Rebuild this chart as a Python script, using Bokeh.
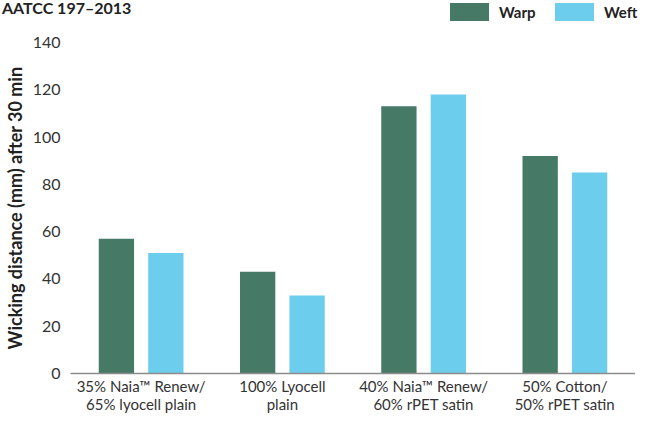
from bokeh.plotting import figure
from bokeh.layouts import column
from bokeh.models import (FactorRange, Range1d, FixedTicker, ColumnDataSource, Div)
from bokeh.transform import dodge
from bokeh.embed import file_html
from bokeh.resources import INLINE

categories = ["35% Naia\u2122 Renew/\n65% lyocell plain",
              "100% Lyocell\nplain",
              "40% Naia\u2122 Renew/\n60% rPET satin",
              "50% Cotton/\n50% rPET satin"]
warp = [57, 43, 113, 92]
weft = [51, 33, 118, 85]
series = ["Warp", "Weft"]
subtitle = "AATCC 197\u20132013"
y_ticks = [0, 20, 40, 60, 80, 100, 120, 140]

WARP_COLOR = "#467966"
WEFT_COLOR = "#6ccdec"
colors = [WARP_COLOR, WEFT_COLOR]
FONT = "Lato"

W = 635
HEAD_H = 30
MAIN_H = 423 - HEAD_H
LEFT = 68

# ---------------- header: subtitle + legend as real HTML text ----------------
LEG_X0, LEG_PITCH, SW_W, SW_H = 450, 105, 39, 18
parts = [f'<div style="position:absolute;left:2px;top:0px;font-size:16px;'
         f'line-height:16px;white-space:nowrap">{subtitle}</div>']
for i, (name, col) in enumerate(zip(series, colors)):
    x0 = LEG_X0 + i * LEG_PITCH
    parts.append(f'<div style="position:absolute;left:{x0}px;top:3px;width:{SW_W}px;'
                 f'height:{SW_H}px;background:{col}"></div>')
    parts.append(f'<div style="position:absolute;left:{x0 + SW_W + 10}px;top:3px;'
                 f'font-size:15px;line-height:{SW_H}px;white-space:nowrap">{name}</div>')
head = Div(text=(f'<div style="position:relative;width:{W}px;height:{HEAD_H}px;'
                 f'font-family:{FONT},sans-serif;font-weight:bold;color:#222222">'
                 + "".join(parts) + "</div>"),
           width=W, height=HEAD_H, margin=0)

# ---------------- main chart ----------------
source = ColumnDataSource(dict(cat=categories, warp=warp, weft=weft))

p = figure(width=W, height=MAIN_H, output_backend="svg", toolbar_location=None,
           x_range=FactorRange(*categories, range_padding=0),
           y_range=Range1d(0, 140),
           min_border_left=LEFT, min_border_right=0, min_border_top=12,
           min_border_bottom=50)
p.outline_line_color = None
p.grid.grid_line_color = None

p.vbar(x=dodge("cat", -0.175, range=p.x_range), top="warp", width=0.25,
       source=source, color=WARP_COLOR, line_color=None)
p.vbar(x=dodge("cat", 0.175, range=p.x_range), top="weft", width=0.25,
       source=source, color=WEFT_COLOR, line_color=None)

ya = p.yaxis[0]
ya.ticker = FixedTicker(ticks=y_ticks)
ya.axis_line_color = None
ya.major_tick_line_color = None
ya.minor_tick_line_color = None
ya.major_tick_out = 0
ya.minor_tick_out = 0
ya.major_label_standoff = 10
ya.major_label_text_font = FONT
ya.major_label_text_font_size = "16px"
ya.major_label_text_color = "#333333"
ya.axis_label = "Wicking distance (mm) after 30 min"
ya.axis_label_text_font = FONT
ya.axis_label_text_font_size = "18px"
ya.axis_label_text_font_style = "bold"
ya.axis_label_text_color = "#222222"
ya.axis_label_standoff = 4

xa = p.xaxis[0]
xa.axis_line_color = "#8c8c8c"
xa.axis_line_width = 1.5
xa.major_tick_line_color = None
xa.minor_tick_line_color = None
xa.major_tick_out = 0
xa.major_tick_in = 0
xa.minor_tick_out = 0
xa.major_label_standoff = 3
xa.major_label_text_font = FONT
xa.major_label_text_font_size = "15px"
xa.major_label_text_color = "#333333"
xa.major_label_text_line_height = 1.0

open("out.html", "w").write(file_html(column(head, p, spacing=0), INLINE))
